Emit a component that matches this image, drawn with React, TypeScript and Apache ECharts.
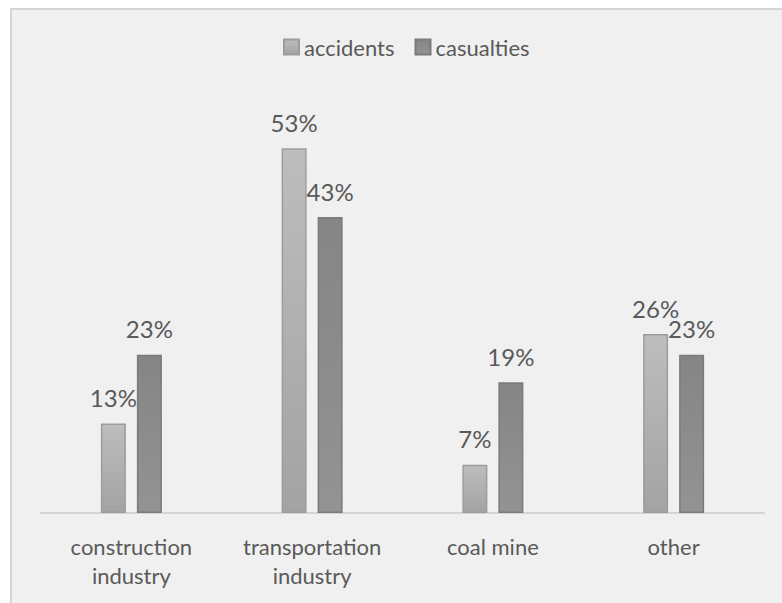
import React, { useEffect, useRef } from "react";
import * as echarts from "echarts";

const categories = ["construction\nindustry", "transportation\nindustry", "coal mine", "other"];
const accidents = [13, 53, 7, 26];
const casualties = [23, 43, 19, 23];
const seriesNames = ["accidents", "casualties"];

const FONT = "Lato, 'Open Sans', sans-serif";

export default function App() {
  const ref = useRef<HTMLDivElement>(null);
  useEffect(() => {
    document.body.style.margin = "0";
    const chart = echarts.init(ref.current!, null, { renderer: "svg" });
    const grad = (a: string, b: string) =>
      new echarts.graphic.LinearGradient(0, 0, 0, 1, [
        { offset: 0, color: a },
        { offset: 1, color: b },
      ]);
    const label = {
      show: true,
      position: "top" as const,
      distance: 14,
      formatter: "{c}%",
      color: "#595959",
      fontSize: 24,
      fontFamily: FONT,
    };
    chart.setOption({
      animation: false,
      backgroundColor: "#ffffff",
      graphic: [
        {
          type: "rect",
          z: -10,
          shape: { x: 11, y: 9, width: 800, height: 620 },
          style: { fill: "#f0f0f0", stroke: "#d6d6d6", lineWidth: 2 },
        },
      ],
      legend: {
        left: 278,
        top: 31,
        icon: "rect",
        itemWidth: 15,
        itemHeight: 15,
        itemGap: 20,
        textStyle: { color: "#595959", fontSize: 22, fontFamily: FONT },
        data: seriesNames,
      },
      grid: { left: 41, right: 18, top: 100, bottom: 90, containLabel: false },
      xAxis: {
        type: "category",
        data: categories,
        axisLine: { show: true, lineStyle: { color: "#d4d4d4", width: 2 } },
        axisTick: { show: false },
        axisLabel: {
          color: "#595959",
          fontSize: 22,
          fontFamily: FONT,
          lineHeight: 29,
          margin: 19,
          interval: 0,
        },
      },
      yAxis: {
        type: "value",
        min: 0,
        max: 60,
        show: false,
        splitLine: { show: false },
      },
      series: [
        {
          name: seriesNames[0],
          type: "bar",
          data: accidents,
          barWidth: 25,
          barGap: "44%",
          itemStyle: {
            color: grad("#bdbdbd", "#a3a3a3"),
            borderColor: "#9c9c9c",
            borderWidth: 1.5,
          },
          label,
        },
        {
          name: seriesNames[1],
          type: "bar",
          data: casualties,
          barWidth: 25,
          itemStyle: {
            color: grad("#858585", "#939393"),
            borderColor: "#7a7a7a",
            borderWidth: 1.5,
          },
          label,
        },
      ],
    });
    return () => chart.dispose();
  }, []);
  return <div ref={ref} style={{ width: 782, height: 603 }} />;
}
